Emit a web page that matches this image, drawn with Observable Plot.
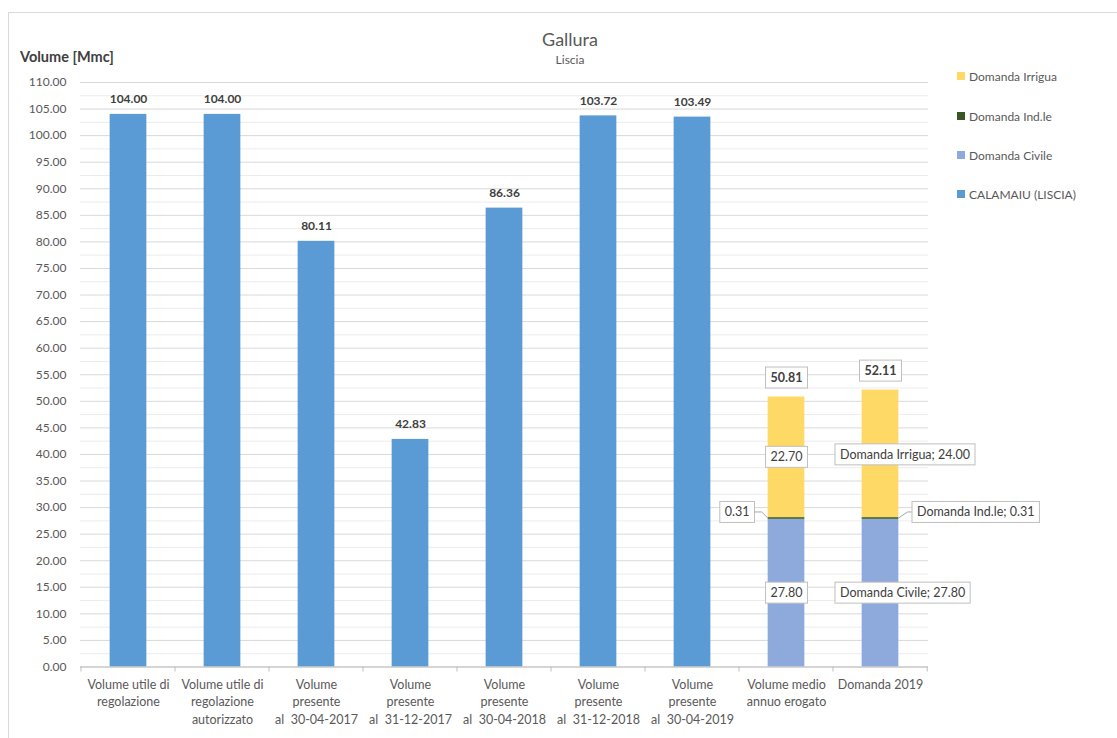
<!DOCTYPE html>
<html>
<head>
<meta charset="utf-8">
<script src="https://cdn.jsdelivr.net/npm/d3@7"></script>
<script src="https://cdn.jsdelivr.net/npm/@observablehq/plot@0.6"></script>
<style>
  body { margin: 0; background: #fff; font-family: Lato, "Open Sans", sans-serif; }
  #wrap { position: relative; width: 1117px; height: 738px; overflow: hidden; background: #fff; }
  #frame { position: absolute; left: 8px; top: 12px; width: 1300px; height: 900px; border: 1px solid #d9d9d9; box-sizing: border-box; }
  #chart { position: absolute; left: 0; top: 0; }
  #title { position: absolute; left: 570px; top: 28px; transform: translateX(-50%); font-size: 18px; color: #595959; white-space: nowrap; }
  #subtitle { position: absolute; left: 570px; top: 52px; transform: translateX(-50%); font-size: 12px; color: #595959; white-space: nowrap; }
  #ylabel { position: absolute; left: 20px; top: 48px; font-size: 14.5px; font-weight: bold; color: #404040; white-space: nowrap; }
  #legend { position: absolute; left: 957px; top: 0; }
  .li { position: absolute; left: 0; white-space: nowrap; font-size: 12px; color: #595959; display: flex; align-items: center; height: 16px; }
  .sw { width: 8px; height: 8px; margin-right: 4px; display: inline-block; }
  svg text { white-space: pre; }
</style>
</head>
<body>
<div id="wrap">
  <div id="frame"></div>
  <div id="chart"></div>
  <div id="title">Gallura</div>
  <div id="subtitle">Liscia</div>
  <div id="ylabel">Volume [Mmc]</div>
  <div id="legend"></div>
</div>
<script>
// ---------- data ----------
const categories = [
  "Volume utile di\nregolazione",
  "Volume utile di\nregolazione\nautorizzato",
  "Volume\npresente\nal  30-04-2017",
  "Volume\npresente\nal  31-12-2017",
  "Volume\npresente\nal  30-04-2018",
  "Volume\npresente\nal  31-12-2018",
  "Volume\npresente\nal  30-04-2019",
  "Volume medio\nannuo erogato",
  "Domanda 2019"
];
const calamaiu       = [104.00, 104.00, 80.11, 42.83, 86.36, 103.72, 103.49, null, null];
const domandaCivile  = [null, null, null, null, null, null, null, 27.80, 27.80];
const domandaIndle   = [null, null, null, null, null, null, null, 0.31, 0.31];
const domandaIrrigua = [null, null, null, null, null, null, null, 22.70, 24.00];
const totals         = [null, null, null, null, null, null, null, 50.81, 52.11];

const seriesNames  = ["CALAMAIU (LISCIA)", "Domanda Civile", "Domanda Ind.le", "Domanda Irrigua"];
const seriesColors = ["#5B9BD5", "#8EA9DB", "#385723", "#FFD966"];
const legendOrder  = ["Domanda Irrigua", "Domanda Ind.le", "Domanda Civile", "CALAMAIU (LISCIA)"];

const majorTicks = d3.range(0, 110.001, 5);
const minorTicks = d3.range(2.5, 110, 5);

// ---------- build tables ----------
const seriesValues = [calamaiu, domandaCivile, domandaIndle, domandaIrrigua];
const rows = [];
categories.forEach((cat, i) => {
  seriesNames.forEach((s, k) => {
    const v = seriesValues[k][i];
    if (v != null) rows.push({cat, series: s, value: v});
  });
});
const blueRows = categories.map((cat, i) => ({cat, value: calamaiu[i]})).filter(d => d.value != null);
const totalRows = categories.map((cat, i) => ({cat, value: totals[i]})).filter(d => d.value != null);

// segment mid-points from stacked values (civile, ind.le, irrigua)
function segs(i) {
  const c = domandaCivile[i], n = domandaIndle[i], r = domandaIrrigua[i];
  return {
    civ: {cat: categories[i], y: c / 2, v: c},
    ind: {cat: categories[i], y: c + n / 2, v: n},
    irr: {cat: categories[i], y: c + n + r / 2, v: r}
  };
}
const s7 = segs(7), s8 = segs(8);

const inset = 28.65;
const textColor = "#404040";
const boxFont = 12.5;

const plot = Plot.plot({
  width: 1117,
  height: 738,
  marginTop: 82,
  marginBottom: 71.5,
  marginLeft: 80,
  marginRight: 189,
  style: {fontFamily: "Lato, 'Open Sans', sans-serif", fontSize: "12px", color: "#595959", background: "transparent"},
  x: {domain: categories, padding: 0, label: null},
  y: {domain: [0, 110], label: null},
  color: {domain: seriesNames, range: seriesColors},
  marks: [
    Plot.ruleY(minorTicks, {stroke: "#ececec"}),
    Plot.ruleY(majorTicks, {stroke: "#d9d9d9"}),
    Plot.axisY({ticks: majorTicks, tickFormat: d => d.toFixed(2), tickSize: 0, tickPadding: 14, fill: "#595959", fontSize: 12, label: null}),
    Plot.axisX({tickSize: 0, tickPadding: 10, lineHeight: 1.38, fill: "#595959", fontSize: 12.5, label: null}),
    Plot.barY(rows, {x: "cat", y: "value", fill: "series", order: seriesNames, insetLeft: inset, insetRight: inset}),
    Plot.ruleY([0], {stroke: "#bfbfbf"}),
    Plot.text(blueRows, {x: "cat", y: "value", text: d => d.value.toFixed(2), dy: -15, fontWeight: "bold", fontSize: 12, fill: textColor}),
    Plot.text(totalRows, {x: "cat", y: "value", text: d => d.value.toFixed(2), dy: -19, fontWeight: "bold", fontSize: 12.5, fill: textColor, className: "boxed"}),
    // first stacked bar: value labels
    Plot.text([s7.irr, s7.civ], {x: "cat", y: "y", text: d => d.v.toFixed(2), fontSize: boxFont, fill: textColor, className: "boxed"}),
    Plot.text([s7.ind], {x: "cat", y: "y", text: d => d.v.toFixed(2), textAnchor: "end", dx: -37, dy: -6, fontSize: boxFont, fill: textColor, className: "boxed"}),
    // second stacked bar: series name + value labels
    Plot.text([s8.irr], {x: "cat", y: "y", text: d => "Domanda Irrigua; " + d.v.toFixed(2), textAnchor: "start", dx: -40.5, dy: 1, fontSize: boxFont, fill: textColor, className: "boxed"}),
    Plot.text([s8.civ], {x: "cat", y: "y", text: d => "Domanda Civile; " + d.v.toFixed(2), textAnchor: "start", dx: -40.5, fontSize: boxFont, fill: textColor, className: "boxed"}),
    Plot.text([s8.ind], {x: "cat", y: "y", text: d => "Domanda Ind.le; " + d.v.toFixed(2), textAnchor: "start", dx: 36.5, dy: -6, fontSize: boxFont, fill: textColor, className: "boxed"})
  ]
});

document.getElementById("chart").appendChild(plot);

// ---------- post-processing: label boxes, category boundary ticks, leaders ----------
const svg = d3.select(plot);
svg.selectAll(".boxed text").each(function() {
  const bb = this.getBBox();
  const padX = 5, padY = 3;
  const r = document.createElementNS("http://www.w3.org/2000/svg", "rect");
  r.setAttribute("x", bb.x - padX);
  r.setAttribute("y", bb.y - padY);
  r.setAttribute("width", bb.width + 2 * padX);
  r.setAttribute("height", bb.height + 2 * padY);
  r.setAttribute("fill", "#fff");
  r.setAttribute("stroke", "#bfbfbf");
  r.setAttribute("stroke-width", 1);
  const t = this.getAttribute("transform");
  if (t) r.setAttribute("transform", t);
  this.parentNode.insertBefore(r, this);
});

const xs = plot.scale("x"), ys = plot.scale("y");
const step = (xs.range[1] - xs.range[0]) / categories.length;
const y0 = ys.apply(0);
const bounds = categories.map(c => xs.apply(c)).concat([xs.apply(categories[categories.length - 1]) + step]);
const g = svg.append("g");
g.selectAll("line").data(bounds).join("line")
  .attr("x1", d => d).attr("x2", d => d)
  .attr("y1", y0).attr("y2", y0 + 5)
  .attr("stroke", "#bfbfbf");

// leader lines for Ind.le labels
const yInd7 = ys.apply(s7.ind.y), yInd8 = ys.apply(s8.ind.y);
const left7 = xs.apply(categories[7]) + inset;
const right8 = xs.apply(categories[8]) + step - inset;
g.append("path")
  .attr("d", `M${left7},${yInd7}L${left7 - 6},${yInd7 - 6}L${left7 - 13},${yInd7 - 6}`)
  .attr("fill", "none").attr("stroke", "#a6a6a6");
g.append("path")
  .attr("d", `M${right8},${yInd8}L${right8 + 9},${yInd8 - 6}L${right8 + 13},${yInd8 - 6}`)
  .attr("fill", "none").attr("stroke", "#a6a6a6");

// ---------- legend ----------
const legendY = [68, 108, 147, 186];
const leg = d3.select("#legend");
legendOrder.forEach((s, i) => {
  const item = leg.append("div").attr("class", "li").style("top", legendY[i] + "px");
  item.append("span").attr("class", "sw").style("background", seriesColors[seriesNames.indexOf(s)]);
  item.append("span").text(s);
});
</script>
</body>
</html>
